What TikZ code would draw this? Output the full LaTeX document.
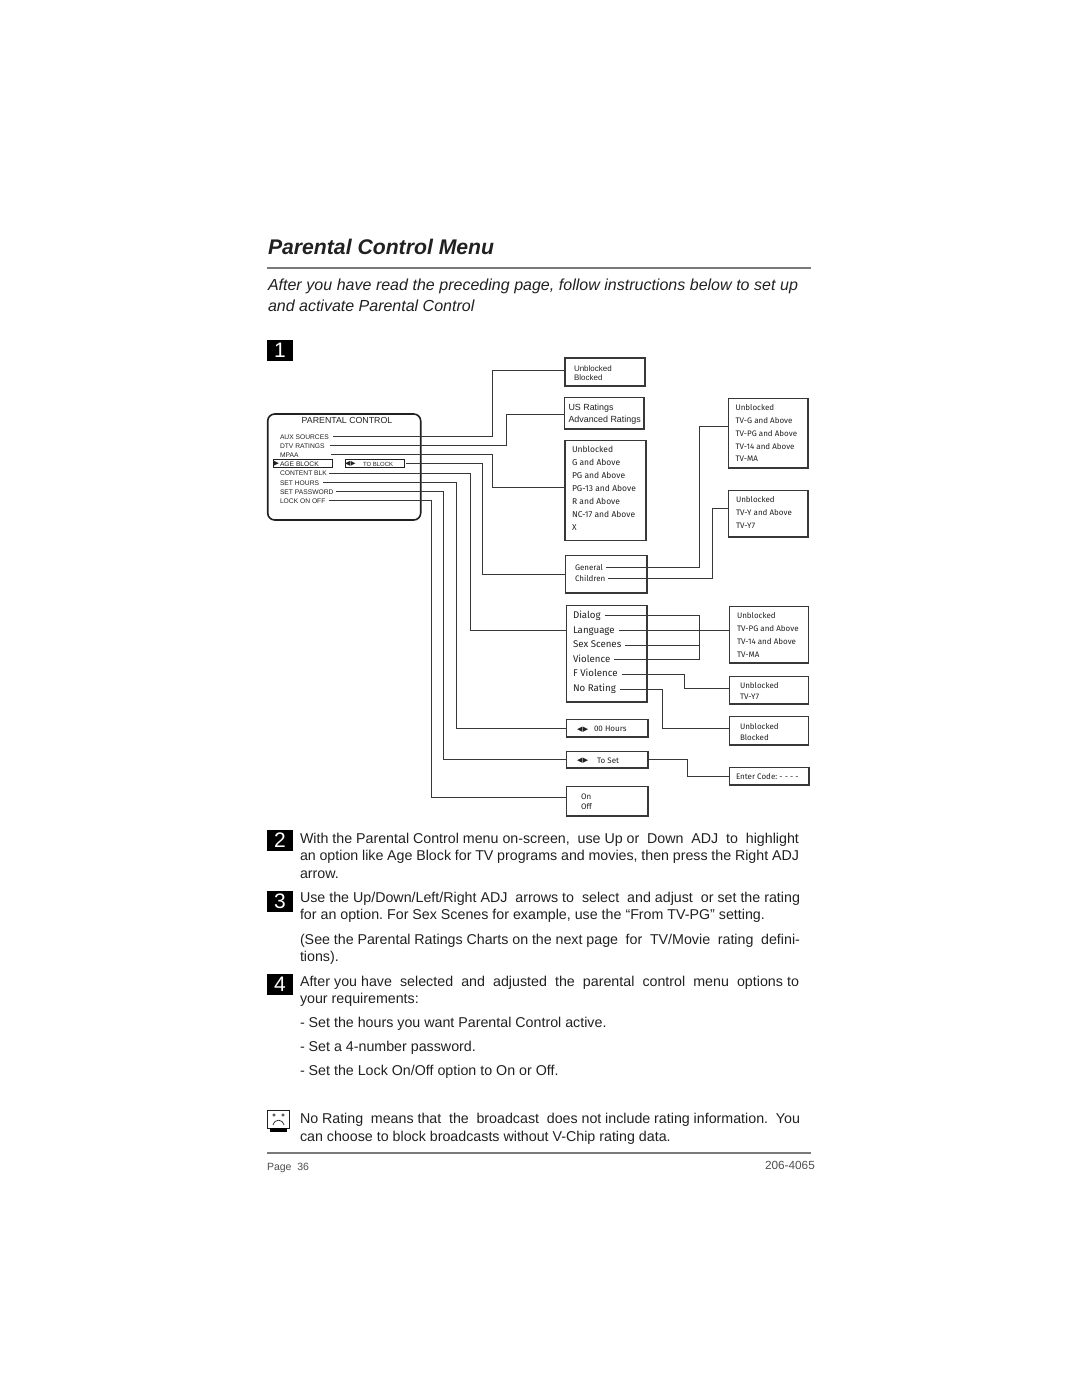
\documentclass[tikz,border=0pt]{standalone}
\usepackage{fontspec}
\setmainfont{Liberation Sans}
\newfontfamily\menufont{Fira Sans}
\newfontfamily\symfont{DejaVu Sans}
\usepackage{xcolor}
\definecolor{ink}{gray}{.13}
\definecolor{wire}{gray}{.22}
\newcommand{\fullline}[2][499pt]{\makebox[#1][s]{#2}}
\frenchspacing

\begin{document}
\begin{tikzpicture}[x=1pt,y=-1pt,
  every node/.style={inner sep=0pt,outer sep=0pt,text=ink},
  menubox/.style={draw=wire,line width=1.5pt,anchor=north west,xshift=.7pt,yshift=-.7pt},
  link/.style={draw=wire,line width=1pt},
  arial/.style={font=\fontsize{#1}{#1}\selectfont,anchor=mid west,yshift=-.7pt},
  thesis/.style={font=\menufont\fontsize{#1}{#1}\selectfont,anchor=mid west,yshift=-.7pt},
  body/.style={font=\fontsize{14.25}{14.25}\selectfont,anchor=mid west,yshift=-2pt},
  intro/.style={font=\itshape\fontsize{16}{16}\selectfont,anchor=mid west,yshift=-3pt},
  arrows/.style={font=\symfont\fontsize{#1}{#1}\selectfont,anchor=mid west},
  stepnum/.style={fill=black,text=white,minimum width=26pt,minimum height=21pt,anchor=north west,font=\fontsize{21}{21}\selectfont}]
\useasboundingbox (0,0) rectangle (1080,1397);

% page heading
\node[anchor=mid west,font=\bfseries\itshape\fontsize{21.2}{21.2}\selectfont] (title) at (268,252) {Parental Control Menu};
\draw[draw=ink!60,line width=1.1pt] (267,268) -- (811,268);
\node[intro] (introa) at (268,285) {\fullline[530pt]{After you have read the preceding page, follow instructions below to set up}};
\node[intro] (introb) at (268,306) {and activate Parental Control};
\node[stepnum] (one) at (267,340) {1};

% on-screen menu panel
\draw[line width=1.6pt,draw=ink,rounded corners=7pt] (267.7,414) rectangle (420.7,520);
\node[anchor=mid,font=\fontsize{8.8}{8.8}\selectfont] (paneltitle) at (347,421) {PARENTAL CONTROL};
\foreach \nm/\y/\txt in {aux/436/AUX SOURCES,dtv/445/DTV RATINGS,mpaa/454/MPAA,age/463/AGE BLOCK,content/472.5/CONTENT BLK,hours/482/SET HOURS,pwd/491/SET PASSWORD,lock/500/LOCK ON OFF}
  \node[arial=6.7] (\nm) at (280,\y) {\txt};
\node[draw=ink,line width=.9pt,minimum width=59pt,minimum height=8.5pt,anchor=west] (agebox) at (273,463.3) {};
\node[arrows=7] (agemark) at (273.5,463) {▶};
\node[draw=ink,line width=.9pt,minimum width=59pt,minimum height=8pt,anchor=west] (toblock) at (345,463.3) {};
\node[arrows=6.5] (tomark) at (345,463) {◀\kern.6pt▶};
\node[anchor=mid west,font=\fontsize{6}{6}\selectfont] (totext) at (363,463.5) {TO BLOCK};

% first column of boxes
\node[menubox,line width=2pt,minimum width=79.5pt,minimum height=27.5pt,xshift=.3pt,yshift=-.3pt] (access) at (564,357) {};
\node[arial=8] (accessa) at (574,368.5) {Unblocked};
\node[arial=8] (accessb) at (574,377) {Blocked};
\node[menubox,minimum width=79.5pt,minimum height=31.5pt] (ratings) at (564,397) {};
\node[arial=8.9] (ratingsa) at (568.5,407) {US Ratings};
\node[arial=8.9] (ratingsb) at (568.5,419.5) {Advanced Ratings};
\node[menubox,minimum width=81pt,minimum height=100pt] (mpaabox) at (564.5,440) {};
\foreach \i/\y/\txt in {1/449.5/Unblocked,2/462.5/G and Above,3/475.5/PG and Above,4/488.5/PG-13 and Above,5/501.5/R and Above,6/514.5/NC-17 and Above,7/527/X}
  \node[thesis=8.5] (mpaa\i) at (572,\y) {\txt};
\node[menubox,minimum width=81.5pt,minimum height=37.5pt] (groups) at (565,555) {};
\node[thesis=8] (general) at (575,567) {General};
\node[thesis=8] (children) at (575,578) {Children};
\node[menubox,minimum width=80.5pt,minimum height=96.5pt] (themes) at (566,605) {};
\foreach \nm/\y/\txt in {dialog/615/Dialog,language/630/Language,sex/644.5/Sex Scenes,violence/659/Violence,fviolence/673.5/F Violence,norating/688.5/No Rating}
  \node[thesis=9.7] (\nm) at (573,\y) {\txt};
\node[menubox,minimum width=81.5pt,minimum height=17.5pt] (hoursbox) at (566,719) {};
\node[arrows=7] (hoursmark) at (577,728.5) {◀\kern.6pt▶};
\node[thesis=8] (hourstext) at (594,728.5) {00 Hours};
\node[menubox,minimum width=81.5pt,minimum height=16.5pt] (setbox) at (566,751) {};
\node[arrows=7] (setmark) at (577,760) {◀\kern.6pt▶};
\node[thesis=8] (settext) at (597,760) {To Set};
\node[menubox,minimum width=81.5pt,minimum height=29.5pt] (lockbox) at (566,786) {};
\node[thesis=8] (lockon) at (581,796) {On};
\node[thesis=8] (lockoff) at (581,806.5) {Off};

% second column of boxes
\node[menubox,minimum width=79.5pt,minimum height=69.5pt] (tvg) at (728,398) {};
\foreach \i/\y/\txt in {1/407/Unblocked,2/420/TV-G and Above,3/433/TV-PG and Above,4/446/TV-14 and Above,5/458.5/TV-MA}
  \node[thesis=8] (tvg\i) at (735.5,\y) {\txt};
\node[menubox,minimum width=79.5pt,minimum height=46.5pt] (tvy) at (728,490) {};
\foreach \i/\y/\txt in {1/499/Unblocked,2/512/TV-Y and Above,3/525/TV-Y7}
  \node[thesis=8] (tvy\i) at (736,\y) {\txt};
\node[menubox,minimum width=79pt,minimum height=56.5pt] (tvpg) at (729,606) {};
\foreach \i/\y/\txt in {1/615/Unblocked,2/628/TV-PG and Above,3/641/TV-14 and Above,4/654/TV-MA}
  \node[thesis=8] (tvpg\i) at (737,\y) {\txt};
\node[menubox,minimum width=79pt,minimum height=27.5pt] (fv) at (729,676) {};
\node[thesis=8] (fva) at (740,685) {Unblocked};
\node[thesis=8] (fvb) at (740,696) {TV-Y7};
\node[menubox,minimum width=79pt,minimum height=28.5pt] (nr) at (729,716) {};
\node[thesis=8] (nra) at (740,726) {Unblocked};
\node[thesis=8] (nrb) at (740,737) {Blocked};
\node[menubox,minimum width=79.5pt,minimum height=17.5pt] (code) at (729,767) {};
\node[thesis=8] (codetext) at (736,776.5) {Enter Code: - - - -};

% wires out of the panel
\draw[link] ([xshift=4pt]aux.mid east) -- (aux.mid east -| 492,0) |- ([yshift=1.5pt]access.west);
\draw[link] ([xshift=5pt]dtv.mid east) -- (dtv.mid east -| 506.5,0) |- ([yshift=-1.5pt]ratings.west);
\draw[link] ([xshift=33pt]mpaa.mid east) -- (mpaa.mid east -| 492,0) |- ([yshift=3pt]mpaabox.west);
\draw[link] ([xshift=2pt]toblock.east) -- (toblock.east -| 482,0) |- (groups.west);
\draw[link] ([xshift=2pt]content.mid east) -- (content.mid east -| 470,0) |- ([yshift=23pt]themes.west);
\draw[link] ([xshift=4pt]hours.mid east) -- (hours.mid east -| 456,0) |- (hoursbox.west);
\draw[link] ([xshift=3pt]pwd.mid east) -- (pwd.mid east -| 443,0) |- (setbox.west);
\draw[link] ([xshift=4pt]lock.mid east) -- (lock.mid east -| 431,0) |- ([yshift=3.5pt]lockbox.west);

% wires between the boxes
\draw[link] ([xshift=3pt]general.mid east) -- (general.mid east -| 699,0) |- ([yshift=6.5pt]tvg.west);
\draw[link] ([xshift=3pt]children.mid east) -- (children.mid east -| 712,0) |- ([yshift=5.5pt]tvy.west);
\draw[link] ([xshift=4pt]dialog.mid east) -- (dialog.mid east -| 699,0) -- (violence.mid east -| 699,0) -- ([xshift=4pt]violence.mid east);
\draw[link] ([xshift=4pt]language.mid east) -- (language.mid east -| tvpg.west);
\draw[link] ([xshift=4pt]sex.mid east) -- (sex.mid east -| 699,0);
\draw[link] ([xshift=4pt]fviolence.mid east) -- (fviolence.mid east -| 684,0) |- ([yshift=1.5pt]fv.west);
\draw[link] ([xshift=4pt]norating.mid east) -- (norating.mid east -| 662,0) |- ([yshift=2pt]nr.west);
\draw[link] (setbox.east) -- (setbox.east -| 687,0) |- (code.west);

% numbered instructions
\node[stepnum] (two) at (267,830) {2};
\node[body] (ta) at (300,838.5) {\fullline{With the Parental Control menu on-screen,\ \ use Up or\ \ Down\ \ ADJ\ \ to\ \ highlight}};
\node[body] (tb) at (300,855.5) {\fullline{an option like Age Block for TV programs and movies, then press the Right ADJ}};
\node[body] (tc) at (300,873.5) {arrow.};
\node[stepnum] (three) at (267,891) {3};
\node[body] (td) at (300,897.5) {\fullline[500pt]{Use the Up/Down/Left/Right ADJ\ \ arrows to\ \ select\ \ and adjust\ \ or set the rating}};
\node[body] (te) at (300,915) {for an option. For Sex Scenes for example, use the “From TV-PG” setting.};
\node[body] (tf) at (300,939.5) {\fullline[500pt]{(See the Parental Ratings Charts on the next page\ \ for\ \ TV/Movie\ \ rating\ \ defini-}};
\node[body] (tg) at (300,957) {tions).};
\node[stepnum] (four) at (267,974) {4};
\node[body] (th) at (300,981.5) {\fullline{After you have\ \ selected\ \ and\ \ adjusted\ \ the\ \ parental\ \ control\ \ menu\ \ options to}};
\node[body] (ti) at (300,999) {your requirements:};
\node[body] (tj) at (300,1023) {- Set the hours you want Parental Control active.};
\node[body] (tk) at (300,1046.5) {- Set a 4-number password.};
\node[body] (tl) at (300,1070.5) {- Set the Lock On/Off option to On or Off.};

% sad television note
\draw[draw=ink,line width=.9pt] (267.5,1110) rectangle (289.5,1128);
\fill[black] (270,1128) rectangle (287,1132);
\draw[draw=ink,line width=.5pt] (274,1115) circle (1.3pt) (283,1115) circle (1.3pt);
\draw[draw=ink,line width=.7pt] (273,1125) .. controls (275,1118.5) and (282,1118.5) .. (284,1125);
\node[body] (tm) at (300,1118.5) {\fullline[500pt]{No Rating\ \ means that\ \ the\ \ broadcast\ \ does not include rating information.\ \ You}};
\node[body] (tn) at (300,1136.5) {can choose to block broadcasts without V-Chip rating data.};

% footer
\draw[draw=ink!60,line width=1.1pt] (267,1153) -- (811,1153);
\node[arial=10.5,text=ink!80,yshift=-1pt] (page) at (267,1166) {Page\ \ 36};
\node[arial=11.8,text=ink!80,yshift=-1pt] (partno) at (765,1165) {206-4065};
\end{tikzpicture}
\end{document}
